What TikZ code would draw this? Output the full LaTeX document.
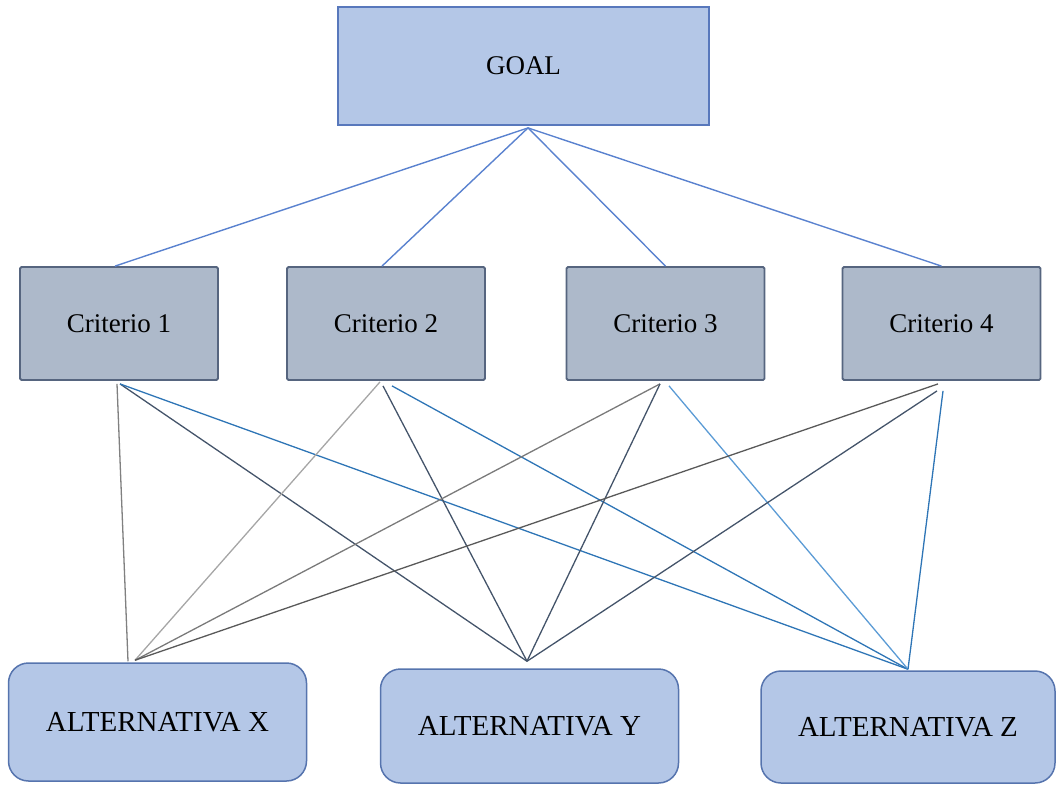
\documentclass[tikz,border=0pt]{standalone}
\usepackage{fontspec}
\setmainfont{Liberation Serif}
\definecolor{goalfill}{HTML}{B4C7E7}
\definecolor{goaldraw}{HTML}{5878BC}
\definecolor{critfill}{HTML}{ADB9CA}
\definecolor{critdraw}{HTML}{56657F}
\definecolor{altdraw}{HTML}{5674AE}
\definecolor{goalline}{HTML}{5A82CF}
\definecolor{navyline}{HTML}{44546A}
\definecolor{blueline}{HTML}{2E75B6}
\definecolor{lblueline}{HTML}{5B9BD5}
\definecolor{greyA}{HTML}{808080}
\definecolor{greyB}{HTML}{A6A6A6}
\definecolor{greyC}{HTML}{7A7A7A}
\definecolor{greyD}{HTML}{595959}
\begin{document}
\begin{tikzpicture}[x=1pt,y=-1pt,
  goalbox/.style={draw=goaldraw,fill=goalfill,line width=1.8pt,minimum width=371pt,minimum height=118pt,inner sep=0pt,font=\fontsize{27}{30}\selectfont},
  critbox/.style={draw=critdraw,fill=critfill,line width=1.8pt,minimum width=198pt,minimum height=113pt,inner sep=0pt,rounded corners=1.5pt,font=\fontsize{27}{30}\selectfont},
  altbox/.style={draw=altdraw,fill=goalfill,line width=1.5pt,minimum width=298pt,inner sep=0pt,rounded corners=20pt,font=\fontsize{29}{32}\selectfont},
  gline/.style={draw=goalline,line width=1.4pt},
  wire/.style={line width=1.3pt}
]
\useasboundingbox (0,0) rectangle (1056,785);
% nodes
\node[goalbox] (goal) at (523.5,66) {GOAL};
\node[critbox] (c1) at (119,323.5) {Criterio 1};
\node[critbox] (c2) at (386,323.5) {Criterio 2};
\node[critbox] (c3) at (665.5,323.5) {Criterio 3};
\node[critbox] (c4) at (941.5,323.5) {Criterio 4};
\node[altbox,minimum height=118pt] (altx) at (157.5,722) {ALTERNATIVA X};
\node[altbox,minimum height=114pt] (alty) at (529.5,726) {ALTERNATIVA Y};
\node[altbox,minimum width=294pt,minimum height=112pt] (altz) at (908,727) {ALTERNATIVA Z};
% connection points
\coordinate (gB) at ([xshift=4.5pt,yshift=-2pt]goal.south);
\coordinate (c1T) at ([xshift=-4pt]c1.north);
\coordinate (c2T) at ([xshift=-4pt]c2.north);
\coordinate (c3T) at (c3.north);
\coordinate (c4T) at (c4.north);
\coordinate (c1x) at ([xshift=-2pt,yshift=-3pt]c1.south);
\coordinate (c1y) at ([xshift=1pt,yshift=-3pt]c1.south);
\coordinate (c2x) at ([xshift=-6pt,yshift=-1pt]c2.south);
\coordinate (c2y) at ([xshift=-3pt,yshift=-5pt]c2.south);
\coordinate (c2z) at ([xshift=6pt,yshift=-5pt]c2.south);
\coordinate (c3x) at ([xshift=-5.5pt,yshift=-3pt]c3.south);
\coordinate (c3z) at ([xshift=3.5pt,yshift=-5pt]c3.south);
\coordinate (c4x) at ([xshift=-3.5pt,yshift=-3pt]c4.south);
\coordinate (c4y) at ([xshift=-4.5pt,yshift=-10pt]c4.south);
\coordinate (c4z) at ([xshift=1.5pt,yshift=-10pt]c4.south);
\coordinate (xa) at ([xshift=-29.5pt,yshift=1pt]altx.north);
\coordinate (xb) at ([xshift=-22.5pt,yshift=2pt]altx.north);
\coordinate (yT) at ([xshift=-2.5pt,yshift=7pt]alty.north);
\coordinate (zT) at ([yshift=1pt]altz.north);
% goal to criteria
\draw[gline] (gB) -- (c1T);
\draw[gline] (gB) -- (c2T);
\draw[gline] (gB) -- (c3T);
\draw[gline] (gB) -- (c4T);
% criteria to alternatives
\draw[wire,greyA] (c1x) -- (xa);
\draw[wire,navyline] (c1y) -- (yT);
\draw[wire,blueline] (c1y) -- (zT);
\draw[wire,greyB] (c2x) -- (xb);
\draw[wire,navyline] (c2y) -- (yT);
\draw[wire,blueline] (c2z) -- (zT);
\draw[wire,greyC] (c3x) -- (xb);
\draw[wire,navyline] (c3x) -- (yT);
\draw[wire,lblueline] (c3z) -- (zT);
\draw[wire,greyD] (c4x) -- (xb);
\draw[wire,navyline] (c4y) -- (yT);
\draw[wire,blueline] (c4z) -- (zT);
\end{tikzpicture}
\end{document}
